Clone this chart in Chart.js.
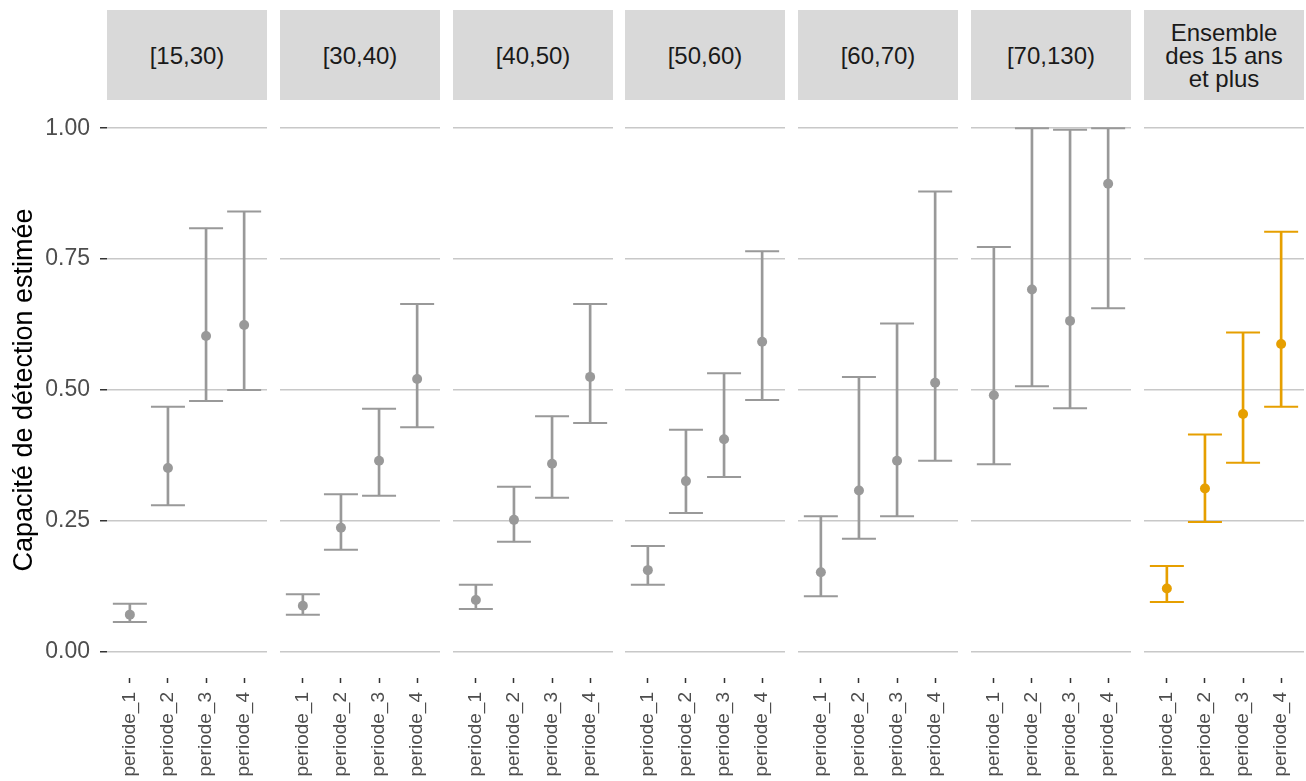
<!DOCTYPE html>
<html><head><meta charset="utf-8">
<script src="https://cdn.jsdelivr.net/npm/chart.js@4.4.1/dist/chart.umd.min.js"></script>
<style>
body{margin:0;background:#fff;}
#wrap{position:relative;width:1306px;height:781px;overflow:hidden;font-family:"Liberation Sans",Arial,sans-serif;}
.strip{position:absolute;top:10px;height:90px;width:160px;background:#d9d9d9;color:#1a1a1a;font-size:24px;display:flex;align-items:center;justify-content:center;text-align:center;line-height:23px;white-space:pre-line;}
canvas{position:absolute;top:0;}
</style></head><body><div id="wrap"></div>
<script>
// ---- data ----
const groups = ['[15,30)', '[30,40)', '[40,50)', '[50,60)', '[60,70)', '[70,130)', 'Ensemble\ndes 15 ans\net plus'];
const periods = ['periode_1', 'periode_2', 'periode_3', 'periode_4'];
const meanValues = [
  [0.071, 0.351, 0.603, 0.624],
  [0.088, 0.237, 0.365, 0.521],
  [0.099, 0.252, 0.359, 0.525],
  [0.156, 0.326, 0.406, 0.592],
  [0.152, 0.308, 0.365, 0.514],
  [0.490, 0.692, 0.632, 0.894],
  [0.121, 0.312, 0.454, 0.588]
];
const lowerValues = [
  [0.057, 0.280, 0.479, 0.500],
  [0.071, 0.195, 0.298, 0.429],
  [0.082, 0.210, 0.294, 0.437],
  [0.128, 0.265, 0.334, 0.481],
  [0.106, 0.216, 0.259, 0.365],
  [0.358, 0.507, 0.465, 0.656],
  [0.095, 0.248, 0.361, 0.468]
];
const upperValues = [
  [0.092, 0.468, 0.809, 0.841],
  [0.110, 0.301, 0.464, 0.664],
  [0.128, 0.315, 0.450, 0.664],
  [0.202, 0.424, 0.532, 0.765],
  [0.259, 0.525, 0.627, 0.879],
  [0.773, 1.000, 0.997, 1.000],
  [0.164, 0.415, 0.610, 0.802]
];
const yTickValues = [0, 0.25, 0.5, 0.75, 1];
const yTickLabels = ['0.00', '0.25', '0.50', '0.75', '1.00'];
const yTitle = 'Capacité de détection estimée';

// ---- styling / layout ----
const groupColors = ['#999999','#999999','#999999','#999999','#999999','#999999','#E69F00'];
const panelLeft = [107, 280, 453, 625, 798, 971, 1144];
const panelWidth = 160;
const yAxisWidth = 107;
const FAMILY = '"Liberation Sans", Arial, sans-serif';
const wrap = document.getElementById('wrap');

groups.forEach((g, i) => {
  const s = document.createElement('div');
  s.className = 'strip';
  s.style.left = panelLeft[i] + 'px';
  s.textContent = g;
  wrap.appendChild(s);
});

function makeChart(i) {
  const first = i === 0;
  const w = first ? yAxisWidth + panelWidth : panelWidth;
  const canvas = document.createElement('canvas');
  canvas.width = w; canvas.height = 781;
  canvas.style.width = w + 'px'; canvas.style.height = '781px';
  canvas.style.left = (first ? 0 : panelLeft[i]) + 'px';
  wrap.appendChild(canvas);
  const col = groupColors[i];
  const xs = periods.map((p, k) => k + 1);
  new Chart(canvas, {
    type: 'bar',
    data: {
      datasets: [
        { type: 'line', data: xs.map((x, k) => ({x, y: meanValues[i][k]})), showLine: false,
          pointStyle: 'circle', pointRadius: 5, pointHoverRadius: 5,
          pointBackgroundColor: col, pointBorderWidth: 0, order: 0, clip: false },
        { type: 'line', data: xs.flatMap((x, k) => [{x, y: lowerValues[i][k]}, {x, y: upperValues[i][k]}]),
          showLine: false, pointStyle: 'line', pointRadius: 17, pointHoverRadius: 17,
          pointBorderColor: col, pointBorderWidth: 2, order: 1, clip: false },
        { type: 'bar', data: xs.map((x, k) => ({x, y: [lowerValues[i][k], upperValues[i][k]]})),
          backgroundColor: col, barThickness: 2, borderWidth: 0, order: 2 }
      ]
    },
    options: {
      responsive: false, animation: false, events: [], devicePixelRatio: 1,
      layout: { autoPadding: false, padding: { top: 102, left: 0, right: 0, bottom: 0 } },
      plugins: { legend: { display: false }, tooltip: { enabled: false } },
      scales: {
        x: {
          type: 'linear', min: 0.4, max: 4.6, bounds: 'data', offset: false,
          afterBuildTicks: s => { s.ticks = xs.map(v => ({value: v})); },
          afterFit: s => { s.height = 103; s.paddingLeft = 0; s.paddingRight = 0; },
          grid: { offset: false, drawOnChartArea: false, drawTicks: true, tickLength: 5,
                  tickColor: '#333333', tickWidth: 1.5 },
          border: { display: false },
          ticks: { autoSkip: false, minRotation: 90, maxRotation: 90, padding: 9, color: '#4d4d4d',
                   font: { size: 19, family: FAMILY }, callback: v => periods[v - 1] }
        },
        y: {
          type: 'linear', min: -0.05, max: 1.05, bounds: 'data',
          afterBuildTicks: s => { s.ticks = yTickValues.map(v => ({value: v})); },
          afterFit: s => { s.width = first ? yAxisWidth : 0; s.paddingTop = 0; s.paddingBottom = 0; },
          grid: { color: '#c8c8c8', lineWidth: 1.5, drawTicks: first, tickLength: first ? 7 : 0,
                  tickColor: '#333333', tickWidth: 1.5 },
          border: { display: false },
          ticks: { display: first, padding: 10, color: '#4d4d4d', font: { size: 23, family: FAMILY },
                   callback: v => yTickLabels[yTickValues.indexOf(v)] },
          title: { display: first, text: yTitle, color: '#000000', font: { size: 27, family: FAMILY },
                   padding: { top: 8, bottom: 0 } }
        }
      }
    }
  });
}
groups.forEach((g, i) => makeChart(i));
</script></body></html>
